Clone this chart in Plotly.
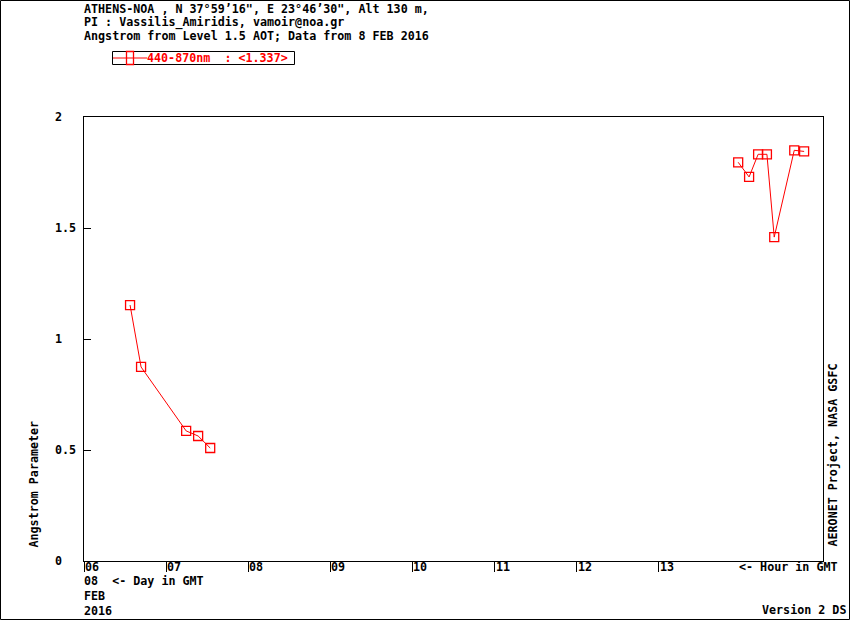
import plotly.graph_objects as go

# ---- data ----
hours_morning = [6.561, 6.695, 7.244, 7.390, 7.537]
angstrom_morning = [1.153, 0.874, 0.586, 0.563, 0.509]
hours_afternoon = [13.967, 14.100, 14.210, 14.317, 14.406, 14.650, 14.770]
angstrom_afternoon = [1.796, 1.730, 1.832, 1.832, 1.459, 1.850, 1.845]

hour_ticks = [6, 7, 8, 9, 10, 11, 12, 13]
hour_labels = ["06", "07", "08", "09", "10", "11", "12", "13"]
y_ticks = [0, 0.5, 1, 1.5, 2]
y_labels = ["0", "0.5", "1", "1.5", "2"]

series_name = "440-870nm  : <1.337>"
title_lines = [
    "ATHENS-NOA , N 37°59’16\", E 23°46’30\", Alt 130 m,",
    "PI : Vassilis_Amiridis, vamoir@noa.gr",
    "Angstrom from Level 1.5 AOT; Data from 8 FEB 2016",
]

# ---- geometry ----
W, H = 850, 620
L, R, T, B = 84, 27, 117, 59
PW, PH = W - L - R, H - T - B
AX_BOTTOM = H - B


def px(xp):
    return (xp - L) / PW


def py(yp):
    return (AX_BOTTOM - yp) / PH


def esc(s):
    return s.replace("&", "&amp;").replace("<", "&lt;").replace(">", "&gt;").replace(" ", "\u00a0")


FONT = "DejaVu Sans Mono"
RED = "#ff0000"
FS = 11.7

x_all = hours_morning + [None] + hours_afternoon
y_all = angstrom_morning + [None] + angstrom_afternoon

fig = go.Figure()
fig.add_trace(go.Scatter(
    x=x_all, y=y_all, mode="lines+markers", name=series_name,
    line=dict(color=RED, width=1),
    marker=dict(symbol="square-open", size=9, color=RED, line=dict(width=1.3, color=RED)),
    connectgaps=False, showlegend=False,
))

ann = []
tf = dict(family=FONT, size=FS, color="black", weight="bold")
for i, t in enumerate(title_lines):
    ann.append(dict(text=esc(t), xref="paper", yref="paper", x=px(82), y=py([9, 23, 36][i]),
                    xanchor="left", yanchor="middle", showarrow=False, font=tf))
for v, lab in zip(hour_ticks, hour_labels):
    ann.append(dict(text=lab, xref="x", yref="paper", x=v, y=py(567), xshift=-1,
                    xanchor="left", yanchor="middle", showarrow=False, font=tf))
for v, lab in zip(y_ticks, y_labels):
    ann.append(dict(text=lab, xref="paper", yref="y", x=px(53), y=v,
                    xanchor="left", yanchor="middle", showarrow=False, font=tf))
extra = [
    ("<- Hour in GMT", 737, 567, "left"),
    ("08  <- Day in GMT", 82, 581, "left"),
    ("FEB", 82, 596, "left"),
    ("2016", 82, 611, "left"),
    ("Version 2 DS", 848, 610, "right"),
]
for t, x0, y0, xa in extra:
    ann.append(dict(text=esc(t), xref="paper", yref="paper",
                    x=px(x0), y=py(y0), xanchor=xa, yanchor="middle", showarrow=False, font=tf))
ann.append(dict(text=esc("Angstrom Parameter"), xref="paper", yref="paper", x=px(33), y=py(549),
                xanchor="center", yanchor="bottom", textangle=-90, showarrow=False, font=tf))
ann.append(dict(text=esc("AERONET Project, NASA GSFC"), xref="paper", yref="paper", x=px(832), y=py(549),
                xanchor="center", yanchor="bottom", textangle=-90, showarrow=False, font=tf))
# legend text
ann.append(dict(text=esc(series_name), xref="paper", yref="paper", x=px(145), y=py(58),
                xanchor="left", yanchor="middle", showarrow=False,
                font=dict(family=FONT, size=FS, color=RED, weight="bold")))

shapes = [
    # outer frame
    dict(type="rect", xref="paper", yref="paper",
         x0=px(0.5), x1=px(849.5), y0=py(0.5), y1=py(619.5),
         line=dict(color="black", width=1), fillcolor="rgba(0,0,0,0)", layer="below"),
    # legend box
    dict(type="rect", xref="paper", yref="paper",
         x0=px(112.5), x1=px(294.5), y0=py(51.5), y1=py(64.5),
         line=dict(color="black", width=1), fillcolor="white"),
    # legend line sample
    dict(type="line", xref="paper", yref="paper",
         x0=px(113), x1=px(147), y0=py(58), y1=py(58),
         line=dict(color=RED, width=1)),
    # legend marker sample
    dict(type="rect", xref="paper", yref="paper",
         x0=px(126.5), x1=px(133.5), y0=py(51.5), y1=py(64.5),
         line=dict(color=RED, width=1.3), fillcolor="rgba(0,0,0,0)"),
]

fig.update_layout(
    width=W, height=H,
    margin=dict(l=L, r=R, t=T, b=B, pad=0),
    paper_bgcolor="white", plot_bgcolor="white",
    font=dict(family=FONT, size=FS, color="black"),
    showlegend=False,
    annotations=ann,
    shapes=shapes,
    xaxis=dict(range=[6, 15], tickvals=hour_ticks, showticklabels=False,
               ticks="outside", ticklen=10, tickcolor="black", tickwidth=1,
               showline=True, linecolor="black", linewidth=1, mirror=True,
               showgrid=False, zeroline=False),
    yaxis=dict(range=[0, 2], tickvals=y_ticks, showticklabels=False,
               ticks="inside", ticklen=7, tickcolor="black", tickwidth=1,
               showline=True, linecolor="black", linewidth=1, mirror=True,
               showgrid=False, zeroline=False),
)

fig.write_html("out.html", config={"displayModeBar": False},
               post_script="document.body.style.margin='0';document.body.style.overflow='hidden';")
